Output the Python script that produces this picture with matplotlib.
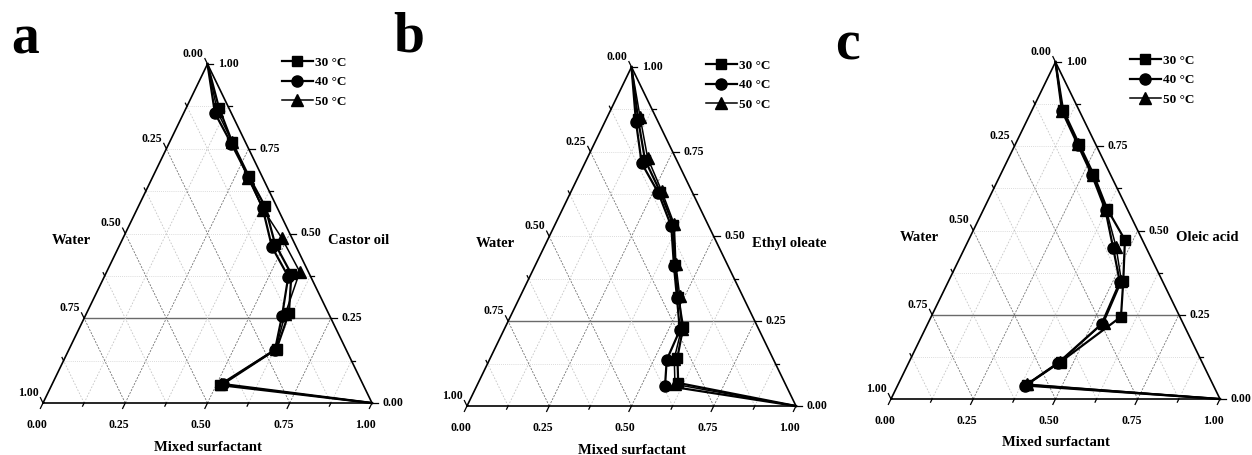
import numpy as np
import matplotlib.pyplot as plt
from matplotlib.lines import Line2D

plt.rcParams['font.family'] = ['Liberation Serif', 'DejaVu Serif']
plt.rcParams['font.weight'] = 'bold'

# ---- data: oil / mixed surfactant mass fractions along the phase boundary ----
# each series starts at the pure-oil vertex and ends at the pure-surfactant vertex
temps = ['30 \u00b0C', '40 \u00b0C', '50 \u00b0C']
markers = ['s', 'o', '^']
oil_names = ['Castor oil', 'Ethyl oleate', 'Oleic acid']
letters = ['a', 'b', 'c']
ticks = [0.0, 0.25, 0.5, 0.75, 1.0]
tick_labels = ['0.00', '0.25', '0.50', '0.75', '1.00']

# a - castor oil
a_oil_30 = [1.0, 0.87, 0.77, 0.67, 0.58, 0.47, 0.38, 0.265, 0.16, 0.053, 0.0]
a_surf_30 = [0.0, 0.10, 0.19, 0.29, 0.385, 0.47, 0.565, 0.615, 0.63, 0.51, 1.0]
a_oil_40 = [1.0, 0.855, 0.765, 0.668, 0.575, 0.46, 0.373, 0.257, 0.156, 0.056, 0.0]
a_surf_40 = [0.0, 0.095, 0.19, 0.29, 0.38, 0.466, 0.559, 0.598, 0.627, 0.519, 1.0]
a_oil_50 = [1.0, 0.86, 0.77, 0.665, 0.57, 0.486, 0.387, 0.262, 0.158, 0.055, 0.0]
a_surf_50 = [0.0, 0.10, 0.19, 0.29, 0.385, 0.483, 0.587, 0.605, 0.628, 0.515, 1.0]

# b - ethyl oleate
b_oil_30 = [1.0, 0.846, 0.726, 0.632, 0.534, 0.416, 0.322, 0.232, 0.143, 0.068, 0.0]
b_surf_30 = [0.0, 0.097, 0.178, 0.271, 0.360, 0.424, 0.481, 0.541, 0.568, 0.608, 1.0]
b_oil_40 = [1.0, 0.839, 0.716, 0.628, 0.530, 0.414, 0.320, 0.224, 0.136, 0.060, 0.0]
b_surf_40 = [0.0, 0.094, 0.173, 0.268, 0.356, 0.422, 0.478, 0.535, 0.539, 0.572, 1.0]
b_oil_50 = [1.0, 0.853, 0.732, 0.635, 0.536, 0.418, 0.325, 0.228, 0.140, 0.064, 0.0]
b_surf_50 = [0.0, 0.0995, 0.183, 0.274, 0.362, 0.426, 0.484, 0.538, 0.560, 0.600, 1.0]

# c - oleic acid
c_oil_30 = [1.0, 0.858, 0.757, 0.668, 0.564, 0.472, 0.350, 0.244, 0.111, 0.042, 0.0]
c_surf_30 = [0.0, 0.094, 0.193, 0.281, 0.375, 0.475, 0.531, 0.577, 0.461, 0.391, 1.0]
c_oil_40 = [1.0, 0.855, 0.755, 0.664, 0.560, 0.447, 0.347, 0.223, 0.108, 0.040, 0.0]
c_surf_40 = [0.0, 0.092, 0.190, 0.279, 0.372, 0.452, 0.522, 0.529, 0.455, 0.388, 1.0]
c_oil_50 = [1.0, 0.856, 0.756, 0.666, 0.562, 0.452, 0.349, 0.226, 0.110, 0.044, 0.0]
c_surf_50 = [0.0, 0.093, 0.191, 0.280, 0.373, 0.458, 0.526, 0.533, 0.458, 0.392, 1.0]

panels = [
    [(a_oil_30, a_surf_30), (a_oil_40, a_surf_40), (a_oil_50, a_surf_50)],
    [(b_oil_30, b_surf_30), (b_oil_40, b_surf_40), (b_oil_50, b_surf_50)],
    [(c_oil_30, c_surf_30), (c_oil_40, c_surf_40), (c_oil_50, c_surf_50)],
]

# axes boxes in pixels: left, bottom(from top), width, height
boxes = [(43, 403, 329, 339), (467, 406, 329, 339), (891, 399, 329, 337)]
letter_pos = [(25, 39), (409, 37), (847, 45)]


def tern(s, c):
    s = np.asarray(s, float)
    c = np.asarray(c, float)
    return s + c / 2, c


fig = plt.figure(figsize=(12.52, 4.55), dpi=100)

for k in range(3):
    L, B, Wp, Hp = boxes[k]
    ax = fig.add_axes([L / 1252, (455 - B) / 455, Wp / 1252, Hp / 455])
    ax.set_xlim(0, 1)
    ax.set_ylim(0, 1)
    ax.axis('off')

    # grid
    for v in np.arange(0.125, 1.0, 0.125):
        major = abs(v / 0.25 - round(v / 0.25)) < 1e-6
        gc = '#777777' if major else '#c4c4c4'
        ls = (0, (2.5, 1.5)) if major else (0, (2, 2))
        # constant surfactant
        x, y = tern([v, v], [0, 1 - v])
        ax.plot(x, y, color=gc, lw=0.6, ls=ls, zorder=1)
        # constant water
        x, y = tern([1 - v, 0], [0, 1 - v])
        ax.plot(x, y, color=gc, lw=0.6, ls=ls, zorder=1)
        # constant oil
        x, y = tern([0, 1 - v], [v, v])
        if abs(v - 0.25) < 1e-6:
            ax.plot(x, y, color='#6a6a6a', lw=1.0, zorder=1)
        else:
            ax.plot(x, y, color='#d0d0d0', lw=0.6, ls=(0, (1, 1.5)), zorder=1)

    # frame
    x, y = tern([0, 1, 0, 0], [0, 0, 1, 0])
    ax.plot(x, y, color='black', lw=1.2, clip_on=False, zorder=2)

    # ticks (directions in pixels)
    d_bot = np.array([-Wp / 2, -Hp]) / np.hypot(Wp / 2, Hp)
    d_left = np.array([-Wp / 2, Hp]) / np.hypot(Wp / 2, Hp)
    d_right = np.array([1.0, 0.0])
    for v in np.arange(0, 1.0001, 0.125):
        ln = 6 if abs(v / 0.25 - round(v / 0.25)) < 1e-6 else 3.5
        for (px, py), d in [(tern(v, 0), d_bot),
                            (tern(0, 1 - v), d_left),
                            (tern(1 - v, v), d_right)]:
            ax.plot([px, px + ln * d[0] / Wp], [py, py + ln * d[1] / Hp],
                    color='black', lw=0.9, clip_on=False, zorder=2)
    for v, lab in zip(ticks, tick_labels):
        ax.annotate(lab, tern(v, 0), xytext=(-4.5, -11.5), textcoords='offset points',
                    ha='center', va='top', fontsize=8.5)
        ax.annotate(lab, tern(0, 1 - v), xytext=(-3, 3), textcoords='offset points',
                    ha='right', va='bottom', fontsize=8.5)
        ax.annotate(lab, tern(1 - v, v), xytext=(7.5, 0), textcoords='offset points',
                    ha='left', va='center', fontsize=8.5)

    # axis titles
    ax.text(0.085, 0.48, 'Water', ha='center', va='center', fontsize=10.5)
    ax.text(0.866, 0.48, oil_names[k], ha='left', va='center', fontsize=10.5)
    ax.text(0.5, -0.13, 'Mixed surfactant', ha='center', va='center', fontsize=10.5)

    # data
    handles = []
    for (oil, surf), m, lab, lw in zip(panels[k], markers, temps, [1.6, 1.6, 1.1]):
        ms = 7.5 if m == 's' else 8
        x, y = tern(surf, oil)
        ax.plot(x, y, color='black', lw=lw, marker=m, ms=ms,
                markevery=slice(1, len(oil) - 1), clip_on=False, zorder=3)
        handles.append(Line2D([], [], color='black', lw=lw, marker=m, ms=ms))
    ax.legend(handles, temps, loc='upper left', bbox_to_anchor=(0.725, 1.022),
              frameon=False, fontsize=9.5, handlelength=2.4, handletextpad=0.15,
              labelspacing=0.55, borderpad=0, borderaxespad=0)

    fig.text(letter_pos[k][0] / 1252, 1 - letter_pos[k][1] / 455, letters[k],
             ha='center', va='center', fontsize=40, fontweight='bold')

fig.savefig('out.png', dpi=100)
